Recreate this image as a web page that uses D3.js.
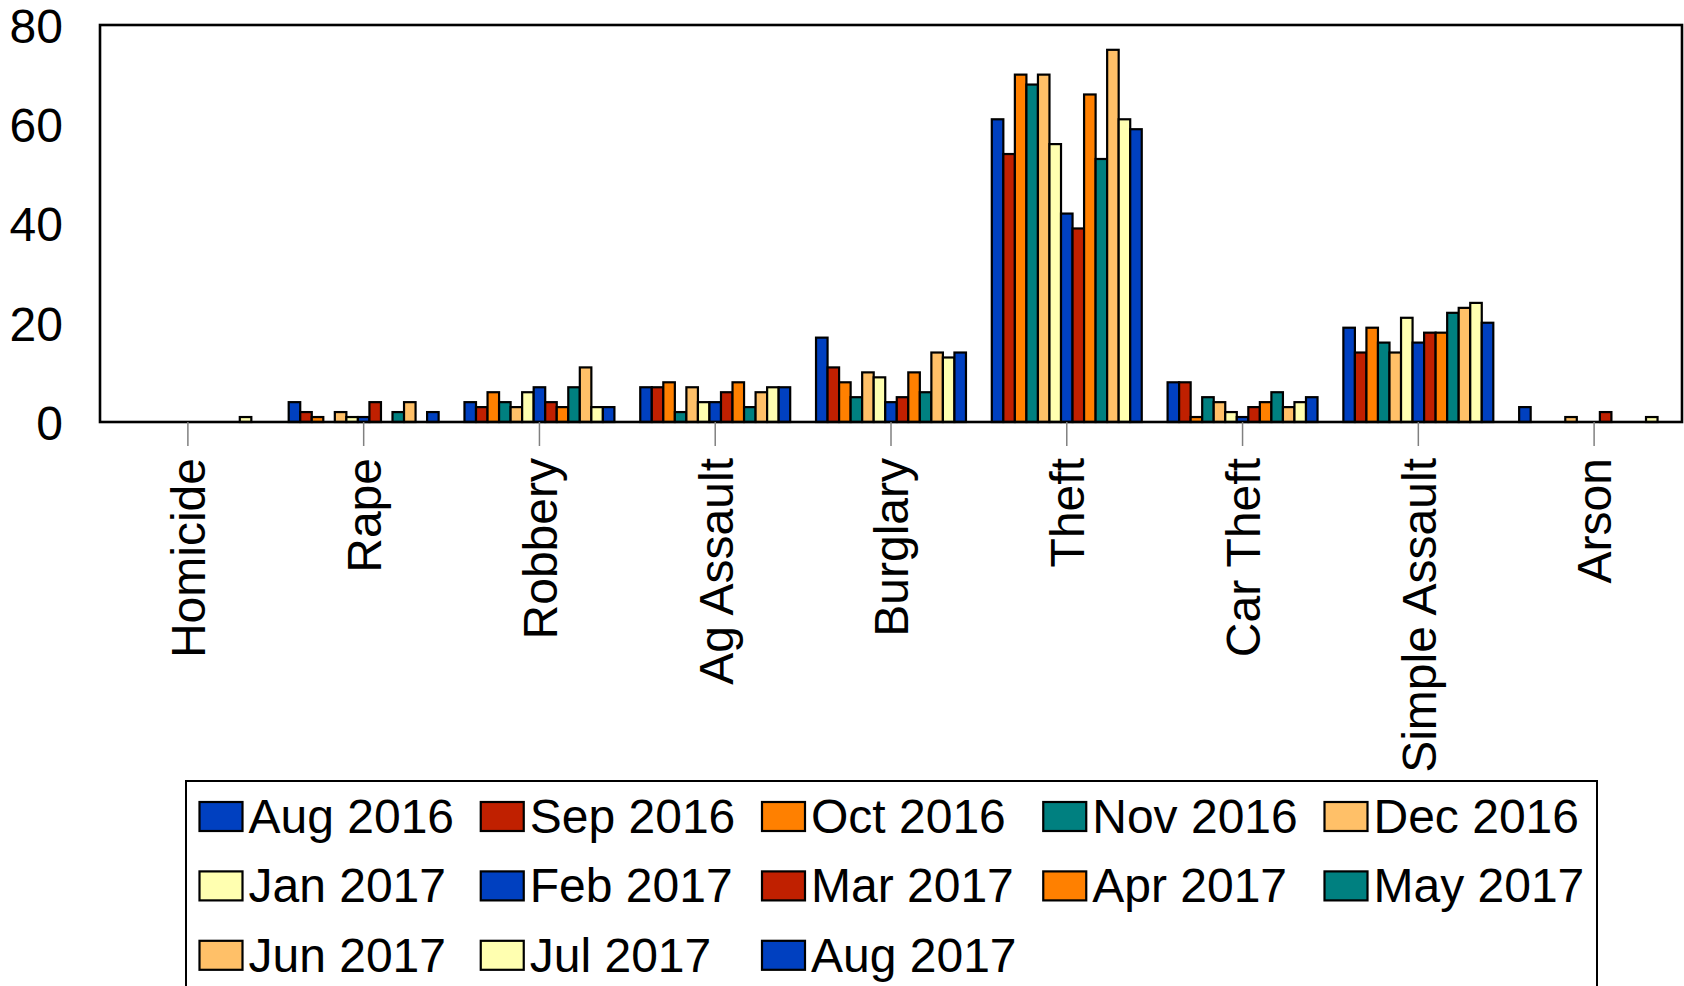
<!DOCTYPE html>
<html>
<head>
<meta charset="utf-8">
<script src="https://cdnjs.cloudflare.com/ajax/libs/d3/7.8.5/d3.min.js"></script>
<style>
  body { margin: 0; background: #fff; }
  text { font-family: "Liberation Sans", Arial, sans-serif; }
</style>
</head>
<body>
<div id="chart"></div>
<script>
// DATA
var categories = ["Homicide", "Rape", "Robbery", "Ag Assault", "Burglary", "Theft", "Car Theft", "Simple Assault", "Arson"];
var months = ["Aug 2016", "Sep 2016", "Oct 2016", "Nov 2016", "Dec 2016", "Jan 2017", "Feb 2017",
              "Mar 2017", "Apr 2017", "May 2017", "Jun 2017", "Jul 2017", "Aug 2017"];
var colors = ["#0040c0", "#c02000", "#ff8000", "#008080", "#ffc068", "#ffffb0",
              "#0040c0", "#c02000", "#ff8000", "#008080", "#ffc068", "#ffffb0", "#0040c0"];
var yTicks = [0, 20, 40, 60, 80];

// one value per month, same order as months
var homicide      = [0, 0, 0, 0, 0, 0, 0, 0, 0, 0, 0, 1, 0];
var rape          = [4, 2, 1, 0, 2, 1, 1, 4, 0, 2, 4, 0, 2];
var robbery       = [4, 3, 6, 4, 3, 6, 7, 4, 3, 7, 11, 3, 3];
var agAssault     = [7, 7, 8, 2, 7, 4, 4, 6, 8, 3, 6, 7, 7];
var burglary      = [17, 11, 8, 5, 10, 9, 4, 5, 10, 6, 14, 13, 14];
var theft         = [61, 54, 70, 68, 70, 56, 42, 39, 66, 53, 75, 61, 59];
var carTheft      = [8, 8, 1, 5, 4, 2, 1, 3, 4, 6, 3, 4, 5];
var simpleAssault = [19, 14, 19, 16, 14, 21, 16, 18, 18, 22, 23, 24, 20];
var arson         = [3, 0, 0, 0, 1, 0, 0, 2, 0, 0, 0, 1, 0];

var rows = [homicide, rape, robbery, agAssault, burglary, theft, carTheft, simpleAssault, arson];

var width = 1684,
    height = 986,
    fontSize = 48;

var plot = {left: 100, right: 1682, top: 25, bottom: 422};

var svg = d3.select("#chart").append("svg")
    .attr("width", width)
    .attr("height", height);

// SCALES
var x0 = d3.scaleBand()
    .domain(categories)
    .range([plot.left, plot.right])
    .padding(0);

var x1 = d3.scaleBand()
    .domain(months)
    .range([0, x0.bandwidth()])
    .paddingInner(0)
    .paddingOuter(1.12);

var y = d3.scaleLinear()
    .domain([0, 80])
    .range([plot.bottom, plot.top]);

// BARS
var groups = svg.append("g")
    .attr("class", "bars")
    .selectAll("g")
    .data(categories)
    .enter()
    .append("g")
    .attr("transform", function(d) { return "translate(" + x0(d) + ",0)"; });

groups.selectAll("rect")
    .data(function(d, i) {
        return months.map(function(m, j) { return {month: m, value: rows[i][j], color: colors[j]}; })
            .filter(function(b) { return b.value > 0; });
    })
    .enter()
    .append("rect")
    .attr("x", function(d) { return x1(d.month); })
    .attr("y", function(d) { return y(d.value); })
    .attr("width", x1.bandwidth())
    .attr("height", function(d) { return y(0) - y(d.value); })
    .attr("fill", function(d) { return d.color; })
    .attr("stroke", "#000")
    .attr("stroke-width", 2.2);

// FRAME
svg.append("rect")
    .attr("x", plot.left)
    .attr("y", plot.top)
    .attr("width", plot.right - plot.left)
    .attr("height", plot.bottom - plot.top)
    .attr("fill", "none")
    .attr("stroke", "#000")
    .attr("stroke-width", 2.6);

// Y AXIS
var yAxis = svg.append("g")
    .attr("transform", "translate(" + plot.left + ",0)")
    .call(d3.axisLeft(y).tickValues(yTicks).tickSize(0).tickPadding(37));
yAxis.select(".domain").remove();
yAxis.selectAll("text")
    .attr("font-size", fontSize)
    .attr("font-family", "Liberation Sans, Arial, sans-serif")
    .attr("fill", "#000")
    .attr("dy", "0.36em");

// X AXIS
var xAxis = svg.append("g")
    .attr("transform", "translate(0," + plot.bottom + ")")
    .call(d3.axisBottom(x0).tickSize(24).tickPadding(0));
xAxis.select(".domain").remove();
xAxis.selectAll(".tick line")
    .attr("stroke", "#808080")
    .attr("stroke-width", 1.5);
xAxis.selectAll(".tick text")
    .attr("font-size", fontSize)
    .attr("font-family", "Liberation Sans, Arial, sans-serif")
    .attr("fill", "#000")
    .attr("text-anchor", "end")
    .attr("transform", "rotate(-90)")
    .attr("x", -36)
    .attr("y", 0)
    .attr("dy", "0.36em");

// LEGEND
var legend = svg.append("g").attr("class", "legend");

legend.append("rect")
    .attr("x", 186)
    .attr("y", 781)
    .attr("width", 1597 - 186)
    .attr("height", 240)
    .attr("fill", "#fff")
    .attr("stroke", "#000")
    .attr("stroke-width", 2);

var items = legend.selectAll(".item")
    .data(months)
    .enter()
    .append("g")
    .attr("class", "item")
    .attr("transform", function(d, i) {
        return "translate(" + (199.5 + (i % 5) * 281.25) + "," + (802 + Math.floor(i / 5) * 69.4) + ")";
    });

items.append("rect")
    .attr("width", 43)
    .attr("height", 29)
    .attr("fill", function(d, i) { return colors[i]; })
    .attr("stroke", "#000")
    .attr("stroke-width", 2.2);

items.append("text")
    .attr("x", 49)
    .attr("y", 31)
    .attr("font-size", fontSize)
    .attr("fill", "#000")
    .text(function(d) { return d; });
</script>
</body>
</html>
